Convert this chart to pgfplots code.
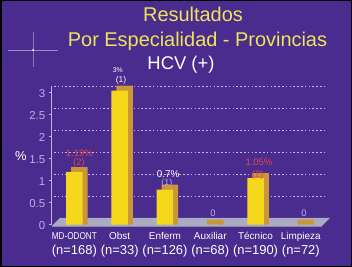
\documentclass[border=0pt]{standalone}
\usepackage{fontspec}
\setmainfont{Liberation Sans}
\usepackage{graphicx}
\usepackage{pgfplots}
\pgfplotsset{compat=1.18}
\definecolor{bg}{HTML}{4A2B8E}
\definecolor{lav}{HTML}{BCAEEA}
\definecolor{gridc}{HTML}{C4B6F0}
\definecolor{baryel}{HTML}{F5D81C}
\definecolor{barside}{HTML}{C9963A}
\definecolor{ttlyel}{HTML}{EDE55A}
\definecolor{lblred}{HTML}{E04848}
\definecolor{floorc}{HTML}{ABABC4}
\definecolor{floord}{HTML}{8A8AA8}
\begin{document}
\begin{tikzpicture}
\fill[black] (0,0) rectangle (352bp,267bp);
\fill[bg] (1.5bp,1bp) rectangle (350.5bp,265.5bp);
% sparkle
\draw[white,opacity=0.45,line width=0.6bp] (8bp,217bp) -- (58bp,217bp);
\draw[white,opacity=0.35,line width=0.6bp] (33bp,200bp) -- (33bp,235bp);
\fill[white,opacity=0.8] (33bp,217bp) circle (1.2bp);
% titles
\node[anchor=base,text=ttlyel,font=\fontsize{20}{22}\selectfont,inner sep=0] at (193bp,245bp) {Resultados};
\node[anchor=base,text=ttlyel,font=\fontsize{20}{22}\selectfont,inner sep=0] at (197.5bp,220bp) {Por Especialidad - Provincias};
\node[anchor=base,text=white,font=\fontsize{18.5}{20}\selectfont,inner sep=0] at (181bp,197bp) {HCV (+)};
\node[text=white,font=\fontsize{13}{14}\selectfont,inner sep=0] at (21bp,111.3bp) {\%};
\begin{axis}[
  at={(51.75bp,42.5bp)}, anchor=south west,
  scale only axis, width=274bp, height=138.4bp,
  xmin=-0.5, xmax=5.55, ymin=0, ymax=3.13,
  clip=false,
  axis lines*=left,
  x axis line style={draw=none},
  y axis line style={draw=lav, line width=0.7bp},
  xtick={0,1,2,3,4,5},
  xtick style={draw=none},
  xticklabels={
    {\scalebox{0.82}[1]{MD-ODONT}\\{\fontsize{13}{15}\selectfont (n=168)}},
    {Obst\\{\fontsize{13}{15}\selectfont (n=33)}},
    {Enferm\\{\fontsize{13}{15}\selectfont (n=126)}},
    {Auxiliar\\{\fontsize{13}{15}\selectfont (n=68)}},
    {Técnico\\{\fontsize{13}{15}\selectfont (n=190)}},
    {Limpieza\\{\fontsize{13}{15}\selectfont (n=72)}}},
  xticklabel style={align=center, text=white, font=\fontsize{10}{15}\selectfont, yshift=-1.5bp},
  ytick={0,0.5,1,1.5,2,2.5,3},
  yticklabels={0,0.5,1,1.5,2,2.5,3},
  yticklabel style={text=lav, font=\fontsize{11.5}{12}\selectfont, yshift=-1.5bp},
  ytick style={draw=lav, line width=0.6bp},
  tick align=outside, major tick length=3bp,
]
% floor
\fill[floorc] (axis cs:-0.5,-0.034) -- (axis cs:5.466,-0.034) -- (axis cs:5.64,0.147) -- (axis cs:-0.318,0.147) -- cycle;
\draw[floord, line width=0.8bp] (axis cs:-0.5,-0.034) -- (axis cs:5.466,-0.034);
% gridlines (back wall)
\pgfplotsinvokeforeach{0.625,1.125,1.625,2.125,2.625,3.125}{
  \draw[gridc, line width=1bp, dash pattern=on 1.6bp off 2.2bp] (axis cs:-0.45,#1) -- (axis cs:5.55,#1);
}
% 3D side/top of bars
\addplot[ybar, bar width=16.5bp, bar shift=5bp, fill=barside, draw=none]
  coordinates {(0,1.30) (1,3.14) (2,0.90) (3,0.11) (4,1.16) (5,0.11)};
% front faces
\addplot[ybar, bar width=16.5bp, bar shift=0bp, fill=baryel, draw=none]
  coordinates {(0,1.19) (1,3.03) (2,0.79) (3,0) (4,1.05) (5,0)};
% value labels
\node[text=lblred, font=\fontsize{9.5}{10}\selectfont] at (axis cs:0.11,1.62) {1.19\%};
\node[text=lblred, font=\fontsize{9.5}{10}\selectfont] at (axis cs:0.10,1.39) {(2)};
\node[text=white, font=\fontsize{7}{8}\selectfont] at (axis cs:0.96,3.5) {3\%};
\node[text=white, font=\fontsize{8.5}{9}\selectfont] at (axis cs:1.03,3.25) {(1)};
\node[text=white, font=\fontsize{10}{11}\selectfont] at (axis cs:2.07,1.14) {0.7\%};
\node[text=lav, font=\fontsize{9}{10}\selectfont] at (axis cs:2.04,0.94) {(1)};
\node[text=lblred, font=\fontsize{9.5}{10}\selectfont] at (axis cs:4.075,1.41) {1.05\%};
\node[text=lblred, font=\fontsize{9.5}{10}\selectfont] at (axis cs:4.05,1.12) {(2)};
\node[text=lav, font=\fontsize{9.5}{10}\selectfont] at (axis cs:3.06,0.26) {0};
\node[text=lav, font=\fontsize{9.5}{10}\selectfont] at (axis cs:5.07,0.26) {0};
\end{axis}
\pgfresetboundingbox
\path (0,0) rectangle (352bp,267bp);
\end{tikzpicture}
\end{document}
